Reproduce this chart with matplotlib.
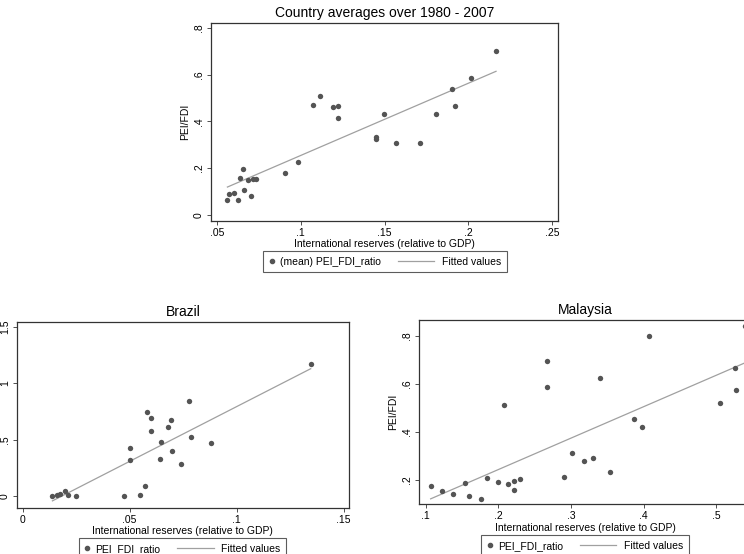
import matplotlib.pyplot as plt
import numpy as np
from matplotlib.legend_handler import HandlerBase
from matplotlib.lines import Line2D

plt.rcParams['font.family'] = ['Liberation Sans', 'DejaVu Sans']

# country averages 1980 - 2007
avg_x = [0.0562, 0.0574, 0.0601, 0.0623, 0.0635, 0.0655, 0.0659, 0.0687, 0.0701, 0.0715,
         0.0735, 0.0906, 0.0982, 0.1075, 0.1117, 0.1193, 0.1222, 0.1222, 0.1449, 0.1449,
         0.1499, 0.1569, 0.1714, 0.1806, 0.1903, 0.1919, 0.2018, 0.2166]
avg_y = [0.063, 0.089, 0.094, 0.063, 0.156, 0.197, 0.107, 0.147, 0.081, 0.151,
         0.154, 0.177, 0.226, 0.471, 0.510, 0.461, 0.464, 0.414, 0.324, 0.333,
         0.433, 0.307, 0.307, 0.433, 0.537, 0.467, 0.586, 0.700]

# Brazil
bra_x = [0.0139, 0.0159, 0.0176, 0.0196, 0.0213, 0.0249, 0.0474, 0.0502, 0.0503, 0.0548,
         0.0573, 0.0581, 0.0600, 0.0601, 0.0642, 0.0645, 0.0678, 0.0692, 0.0696, 0.0740,
         0.0779, 0.0788, 0.0882, 0.1346]
bra_y = [0.003, 0.006, 0.018, 0.044, 0.006, 0.003, 0.003, 0.426, 0.317, 0.006,
         0.089, 0.743, 0.571, 0.689, 0.331, 0.482, 0.615, 0.675, 0.399, 0.287,
         0.840, 0.524, 0.470, 1.169]

# Malaysia
mys_x = [0.1069, 0.1229, 0.1376, 0.1541, 0.1601, 0.1757, 0.1844, 0.1995, 0.2073, 0.2128,
         0.2211, 0.2211, 0.2303, 0.2670, 0.2670, 0.2904, 0.3014, 0.3179, 0.3298, 0.3404,
         0.3532, 0.3862, 0.3982, 0.4069, 0.5055, 0.5261, 0.5266, 0.5390]
mys_y = [0.174, 0.154, 0.142, 0.186, 0.135, 0.121, 0.210, 0.192, 0.513, 0.182,
         0.194, 0.157, 0.203, 0.694, 0.589, 0.213, 0.313, 0.280, 0.290, 0.626,
         0.233, 0.453, 0.419, 0.799, 0.522, 0.665, 0.577, 0.844]

DOT = '#545454'
FIT = '#a0a0a0'
W, H = 744, 554
fig = plt.figure(figsize=(W / 100, H / 100), dpi=100)


# legend handles drawn Stata-like: small dot at the left, long line ending near its text
class DotHandler(HandlerBase):
    def create_artists(self, legend, orig, xd, yd, width, height, fontsize, trans):
        return [Line2D([1.8 - xd], [height / 2 - yd], ls='none', marker='o', ms=3.0,
                       color=DOT, transform=trans)]


class FitHandler(HandlerBase):
    def create_artists(self, legend, orig, xd, yd, width, height, fontsize, trans):
        y = height / 2 - yd
        return [Line2D([-23.9 - xd, 2.5 - xd], [y, y], color=FIT, lw=0.9, transform=trans)]


def px_axes(left, top, right, bottom):
    return fig.add_axes([left / W, 1 - bottom / H, (right - left) / W, (bottom - top) / H])


def panel(ax, x, y, title, xticks, xlabels, yticks, ylabels, xlim, ylim, label, leg_pos,
          ylabel='PEI/FDI'):
    x = np.array(x)
    y = np.array(y)
    b, a = np.polyfit(x, y, 1)
    xs = np.array([x.min(), x.max()])
    pts = ax.scatter(x, y, s=15, color=DOT, zorder=3, linewidths=0)
    ln, = ax.plot(xs, a + b * xs, color=FIT, lw=0.9, zorder=2)
    ax.set_title(title, fontsize=10, pad=4)
    ax.set_xticks(xticks)
    ax.set_xticklabels(xlabels)
    ax.set_yticks(yticks)
    ax.set_yticklabels(ylabels, rotation=90, va='center')
    ax.set_xlim(xlim)
    ax.set_ylim(ylim)
    ax.tick_params(labelsize=7.5, length=3, width=0.6, color='#333333', pad=2)
    ax.set_xlabel('International reserves (relative to GDP)', fontsize=7.5, labelpad=1)
    if ylabel:
        ax.set_ylabel(ylabel, fontsize=7.5, labelpad=3)
    for s in ax.spines.values():
        s.set_linewidth(0.9)
        s.set_color('#333333')
    leg = fig.legend([pts, ln], [label, 'Fitted values'], loc='upper center',
                     bbox_to_anchor=(leg_pos[0] / W, 1 - leg_pos[1] / H), ncol=2,
                     fontsize=7.5, frameon=True, fancybox=False, edgecolor='#333333',
                     handlelength=0.8, handletextpad=0.24, columnspacing=4.8,
                     borderpad=0.55, borderaxespad=0,
                     handler_map={pts: DotHandler(), ln: FitHandler()})
    leg.get_frame().set_linewidth(0.8)


ax1 = px_axes(211, 23, 558, 221)
panel(ax1, avg_x, avg_y, 'Country averages over 1980 - 2007',
      [0.05, 0.1, 0.15, 0.2, 0.25], ['.05', '.1', '.15', '.2', '.25'],
      [0, 0.2, 0.4, 0.6, 0.8], ['0', '.2', '.4', '.6', '.8'],
      (0.0464, 0.2536), (-0.027, 0.821), '(mean) PEI_FDI_ratio', (385, 251))

# left edge of the Brazil panel is cropped in the original, y title not visible
ax2 = px_axes(16.7, 321.7, 349, 508)
panel(ax2, bra_x, bra_y, 'Brazil',
      [0, 0.05, 0.1, 0.15], ['0', '.05', '.1', '.15'],
      [0, 0.5, 1, 1.5], ['0', '.5', '1', '1.5'],
      (-0.0028, 0.1525), (-0.107, 1.544), 'PEI_FDI_ratio', (182.5, 538), ylabel=None)

ax3 = px_axes(419.3, 320, 752, 504.3)
panel(ax3, mys_x, mys_y, 'Malaysia',
      [0.1, 0.2, 0.3, 0.4, 0.5], ['.1', '.2', '.3', '.4', '.5'],
      [0.2, 0.4, 0.6, 0.8], ['.2', '.4', '.6', '.8'],
      (0.0913, 0.549), (0.0986, 0.867), 'PEI_FDI_ratio', (585, 535))

fig.savefig('out.png', dpi=100)
